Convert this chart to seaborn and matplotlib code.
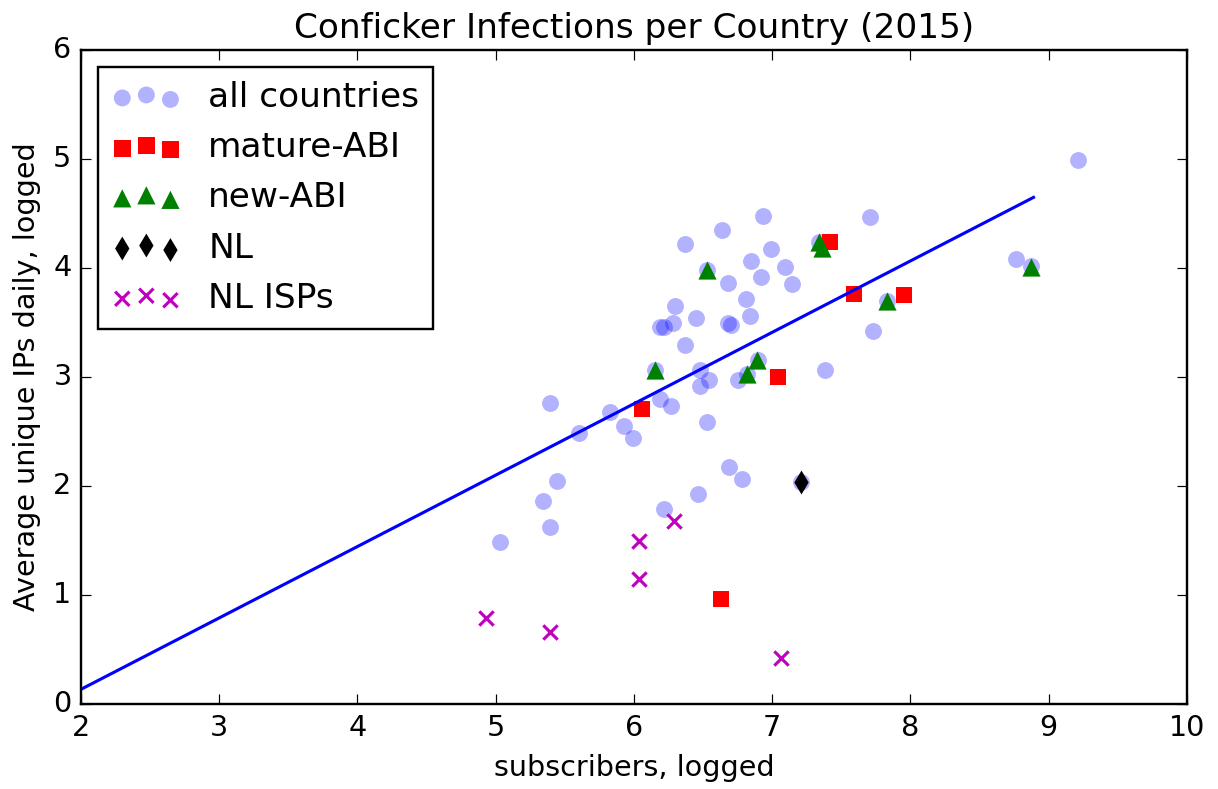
import numpy as np
import matplotlib
matplotlib.use('Agg')
import matplotlib.pyplot as plt
import seaborn as sns

# values (log scale already)
all_x = [9.21, 6.93, 7.71, 6.64, 6.37, 6.99, 6.85, 7.09, 8.76, 8.87, 6.53, 6.68, 6.92,
         7.14, 6.81, 6.30, 6.45, 6.84, 6.19, 6.22, 6.28, 6.68, 6.70, 7.73, 6.37, 6.15,
         6.48, 6.54, 6.48, 6.75, 6.82, 6.90, 7.38, 5.39, 5.83, 6.19, 6.27, 5.93, 5.99,
         5.60, 6.53, 6.69, 6.78, 6.46, 6.22, 5.44, 5.34, 5.39, 5.03, 7.21, 7.34, 7.83]
all_y = [4.99, 4.48, 4.47, 4.35, 4.22, 4.17, 4.06, 4.01, 4.08, 4.02, 3.98, 3.86, 3.92,
         3.85, 3.72, 3.65, 3.54, 3.56, 3.46, 3.46, 3.50, 3.50, 3.48, 3.42, 3.29, 3.06,
         3.06, 2.97, 2.92, 2.97, 3.03, 3.16, 3.06, 2.76, 2.68, 2.80, 2.73, 2.55, 2.44,
         2.49, 2.59, 2.17, 2.06, 1.93, 1.79, 2.05, 1.86, 1.62, 1.49, 2.04, 4.24, 3.70]

mature_x = [6.06, 6.63, 7.04, 7.42, 7.59, 7.95]
mature_y = [2.71, 0.96, 3.00, 4.24, 3.76, 3.75]

new_x = [6.53, 6.15, 6.89, 6.82, 7.34, 7.36, 7.83, 8.87]
new_y = [3.98, 3.06, 3.16, 3.03, 4.24, 4.18, 3.70, 4.01]

nl_x = [7.21]
nl_y = [2.04]

isp_x = [6.29, 6.04, 6.04, 4.93, 5.39, 7.06]
isp_y = [1.68, 1.50, 1.15, 0.79, 0.66, 0.42]

# regression line
fit_slope = 0.655
fit_intercept = -1.175
fit_x = np.array([2.0, 8.89])
fit_y = fit_intercept + fit_slope * fit_x

plt.style.use('classic')
plt.rcParams['figure.facecolor'] = 'white'
plt.rcParams['savefig.facecolor'] = 'white'

dpi = 172
fig, ax = plt.subplots(figsize=(1218 / dpi, 789 / dpi), dpi=dpi)
fig.subplots_adjust(left=0.0665, right=0.9745, bottom=0.1077, top=0.9366)

sns.scatterplot(x=all_x, y=all_y, color='b', alpha=0.3, marker='o', s=50,
                linewidth=0, label='all countries', ax=ax)
sns.scatterplot(x=mature_x, y=mature_y, color='r', marker='s', s=50,
                linewidth=0, label='mature-ABI', ax=ax)
sns.scatterplot(x=new_x, y=new_y, color='g', marker='^', s=58,
                linewidth=0, label='new-ABI', ax=ax)
sns.scatterplot(x=nl_x, y=nl_y, color='k', marker='d', s=50,
                linewidth=0, label='NL', ax=ax)
sns.scatterplot(x=isp_x, y=isp_y, color='m', marker='x', s=36,
                linewidth=1.3, label='NL ISPs', ax=ax)
sns.lineplot(x=fit_x, y=fit_y, color='b', linewidth=1.3, ax=ax)

ax.set_xlim(2, 10)
ax.set_ylim(0, 6)
ax.set_title('Conficker Infections per Country (2015)')
ax.set_xlabel('subscribers, logged')
ax.set_ylabel('Average unique IPs daily, logged')
ax.legend(loc='upper left', scatterpoints=3, fancybox=False)

fig.savefig('out.png', dpi=dpi)
